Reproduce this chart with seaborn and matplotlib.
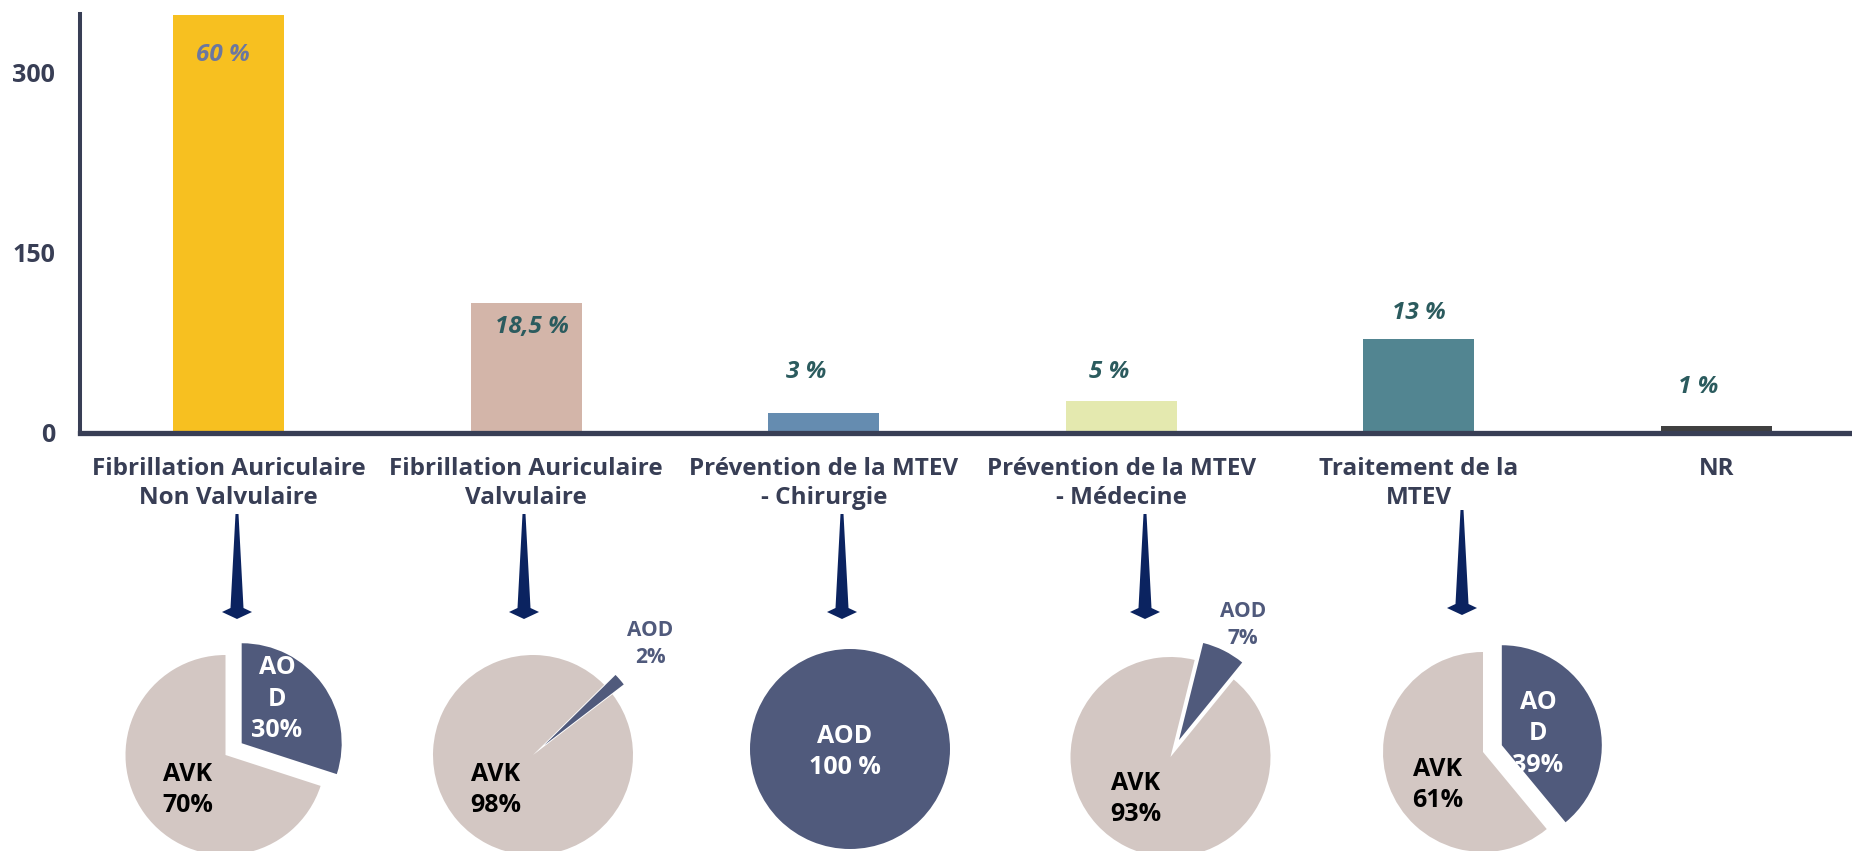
import matplotlib
matplotlib.use("Agg")
import matplotlib.pyplot as plt
from matplotlib.patches import Polygon
import seaborn as sns
import pandas as pd

# ---- data ----
categories = [
    "Fibrillation Auriculaire\nNon Valvulaire",
    "Fibrillation Auriculaire\nValvulaire",
    "Prévention de la MTEV\n- Chirurgie",
    "Prévention de la MTEV\n- Médecine",
    "Traitement de la\nMTEV",
    "NR",
]
patients = [348, 108, 17, 27, 78, 6]
pct_labels = ["60 %", "18,5 %", "3 %", "5 %", "13 %", "1 %"]
bar_colors = ["#f7c020", "#d3b5a9", "#658cb0", "#e4e9af", "#528591", "#404040"]

# AOD / AVK split for the first five indications
aod_share = [30, 2, 100, 7, 39]
avk_share = [70, 98, 0, 93, 61]

yticks = [0, 150, 300]

# ---- styling ----
W, H, DPI = 1852, 851, 100
AXIS_COL = "#383e55"
AOD_COL = "#505a7c"
AVK_COL = "#d3c7c3"
ARROW_COL = "#0b2360"
PCT_COLS = ["#6b77a0", "#2b5b5e", "#2b5b5e", "#2b5b5e", "#2b5b5e", "#2b5b5e"]
label_dy = [-33, -20, 34, 24, 22, 32]
label_dx = [-0.02, 0.02, -0.06, -0.04, 0.0, -0.06]
FONT = ["Open Sans", "DejaVu Sans"]

sns.set_theme(style="white")
plt.rcParams["font.family"] = FONT
plt.rcParams["font.weight"] = "bold"

fig = plt.figure(figsize=(W / DPI, H / DPI), dpi=DPI)


def px_rect(x0, y0_top, w, h):
    """Figure-fraction rectangle from pixel box (top-left origin)."""
    return [x0 / W, (H - y0_top - h) / H, w / W, h / H]


# ---- bar chart ----
ax = fig.add_axes(px_rect(80, 14, 297.5 * 6, 419))
df = pd.DataFrame({"cat": categories, "n": patients})
sns.barplot(data=df, x="cat", y="n", hue="cat", palette=bar_colors,
            width=0.373, saturation=1, legend=False, ax=ax, edgecolor="none")
ax.set_xlim(-0.5, 5.5)
ax.set_ylim(0, 349)
ax.set_xlabel("")
ax.set_ylabel("")
ax.set_yticks(yticks)
ax.set_yticklabels([str(v) for v in yticks], fontweight="bold", fontsize=18)
for s in ["top", "right"]:
    ax.spines[s].set_visible(False)
ax.spines["left"].set_color(AXIS_COL)
ax.spines["left"].set_linewidth(2.9)
ax.spines["bottom"].set_color(AXIS_COL)
ax.spines["bottom"].set_linewidth(3.8)
ax.tick_params(axis="y", length=5.8, width=2.9, color=AXIS_COL,
               labelcolor=AXIS_COL, pad=12)
ax.set_xticks(range(len(categories)))
ax.set_xticklabels(categories, fontweight="bold", fontsize=17.5, linespacing=1.3)
ax.tick_params(axis="x", which="major", length=0, pad=17, labelcolor=AXIS_COL)
ax.set_xticks([i + 0.5 for i in range(-1, 6)], minor=True)
ax.tick_params(axis="x", which="minor", length=6, width=2.5,
               color=AXIS_COL, direction="out")

for i, (v, lab) in enumerate(zip(patients, pct_labels)):
    ax.text(i + label_dx[i], v + label_dy[i], lab, ha="center", va="center",
            fontsize=17.5, fontweight="bold", fontstyle="italic",
            color=PCT_COLS[i])

# ---- arrows pointing from each indication to its pie ----
arrow_x = [237, 524, 842, 1145, 1462]
arrow_top = [514, 514, 514, 514, 510]


def draw_arrow(x, top, length=105):
    base = top + length - 7
    tip = top + length
    pts = [(x - 1.5, top), (x + 1.5, top), (x + 6.5, base - 4),
           (x + 15, base), (x, tip), (x - 15, base), (x - 6.5, base - 4)]
    pts = [(px / W, (H - py) / H) for px, py in pts]
    fig.patches.append(Polygon(pts, closed=True, transform=fig.transFigure,
                               facecolor=ARROW_COL, edgecolor="none"))


for x, t in zip(arrow_x, arrow_top):
    draw_arrow(x, t)

# ---- pies ----
pie_centers = [(225.5, 755), (533, 755), (850, 749), (1170.5, 757), (1483, 752)]
pie_start = [90, 44.6, 90, 76, 90]
pie_explode = [0.2, 0.15, 0.0, 0.19, 0.2]
R = 100
# label placements (offsets in pie radii)
aod_pos = [(0.515, 0.56), (1.17, 1.11), (-0.05, -0.03), (0.725, 1.32), (0.55, 0.18)]
avk_pos = [(-0.375, -0.35), (-0.37, -0.35), None, (-0.345, -0.42), (-0.45, -0.33)]
aod_text = ["AO\nD\n30%", "AOD\n2%", "AOD\n100 %", "AOD\n7%", "AO\nD\n39%"]
avk_text = ["AVK\n70%", "AVK\n98%", None, "AVK\n93%", "AVK\n61%"]
aod_inside = [True, False, True, False, True]

for k, (cx, cy) in enumerate(pie_centers):
    pax = fig.add_axes(px_rect(cx - 1.6 * R, cy - 1.6 * R, 3.2 * R, 3.2 * R))
    vals = [aod_share[k], avk_share[k]]
    cols = [AOD_COL, AVK_COL]
    expl = [pie_explode[k], 0]
    if avk_share[k] == 0:
        vals, cols, expl = vals[:1], cols[:1], expl[:1]
    pax.pie(vals, colors=cols, explode=expl, startangle=pie_start[k],
            counterclock=False, radius=1,
            wedgeprops=dict(linewidth=0, edgecolor="none"))
    pax.set_xlim(-1.6, 1.6)
    pax.set_ylim(-1.6, 1.6)
    pax.set_aspect("equal")
    pax.axis("off")
    ax_x, ax_y = aod_pos[k]
    pax.text(ax_x, ax_y, aod_text[k], ha="center", va="center",
             fontsize=18 if aod_inside[k] else 15, fontweight="bold",
             color="white" if aod_inside[k] else AOD_COL, linespacing=1.35)
    if avk_text[k]:
        vx, vy = avk_pos[k]
        pax.text(vx, vy, avk_text[k], ha="center", va="center",
                 fontsize=18, fontweight="bold", color="black", linespacing=1.35)

fig.savefig("out.png", dpi=DPI)
